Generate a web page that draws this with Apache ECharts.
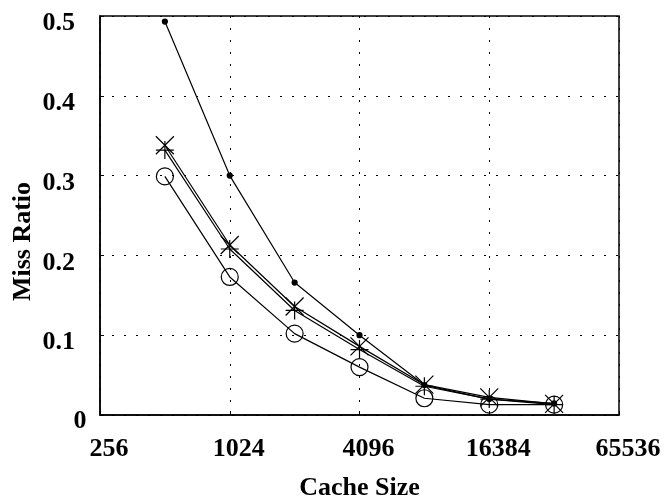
<!DOCTYPE html>
<html><head><meta charset="utf-8">
<script src="https://cdn.jsdelivr.net/npm/echarts@6/dist/echarts.min.js"></script>
<style>html,body{margin:0;padding:0;background:#fff}#c{width:671px;height:498px}</style>
</head><body><div id="c"></div>
<script>
var cacheSizes = [512, 1024, 2048, 4096, 8192, 16384, 32768];
var dotSeries = [0.493, 0.300, 0.166, 0.100, 0.0375, 0.020, 0.0145];
var crossSeries = [0.338, 0.213, 0.136, 0.086, 0.038, 0.022, 0.014];
var plusSeries = [0.332, 0.208, 0.131, 0.082, 0.036, 0.020, 0.013];
var circleSeries = [0.299, 0.173, 0.102, 0.060, 0.021, 0.013, 0.013];
var xTicks = [256, 1024, 4096, 16384, 65536];
var yTicks = [0, 0.1, 0.2, 0.3, 0.4, 0.5];

function pairs(v){ return cacheSizes.map(function(x,i){return [x, v[i]];}); }
var font = '"Liberation Serif","Times New Roman",serif';
function mk(name, data, symbol, size, filled){
  return {
    name: name, type: 'line', data: pairs(data), symbol: symbol, symbolSize: size,
    lineStyle: {color: '#000', width: 1.2},
    itemStyle: {color: filled ? '#000' : 'rgba(0,0,0,0)', borderColor: '#000', borderWidth: 1.2},
    showAllSymbol: true, animation: false, z: 3
  };
}
var chart = echarts.init(document.getElementById('c'));
chart.setOption({
  animation: false,
  grid: {left: 100, right: 52, top: 16, bottom: 83, show: true, borderColor: '#000', borderWidth: 1.5,
    containLabel: false, outerBoundsMode: 'none'},
  xAxis: {
    type: 'log', logBase: 4, min: xTicks[0], max: xTicks[xTicks.length-1],
    name: 'Cache Size', nameLocation: 'middle', nameGap: 60, nameMoveOverlap: false,
    nameTextStyle: {fontFamily: font, fontWeight: 'bold', fontSize: 26, color: '#000'},
    axisLine: {lineStyle: {color: '#000', width: 1.5}},
    axisTick: {inside: true, length: 4, lineStyle: {color: '#000'}},
    axisLabel: {fontFamily: font, fontWeight: 'bold', fontSize: 26, color: '#000', margin: 21,
      padding: [0, 0, 0, 18],
      formatter: function(v){ var r = Math.round(v); return xTicks.indexOf(r) >= 0 ? String(r) : ''; }},
    splitLine: {show: true, lineStyle: {color: '#000', type: [2, 10], width: 1}}
  },
  yAxis: {
    type: 'value', min: yTicks[0], max: yTicks[yTicks.length-1], interval: 0.1,
    name: 'Miss Ratio', nameLocation: 'middle', nameGap: 64, nameMoveOverlap: false,
    nameTextStyle: {fontFamily: font, fontWeight: 'bold', fontSize: 26, color: '#000', padding: [0, 52, 0, 0]},
    axisLine: {show: true, lineStyle: {color: '#000', width: 1.5}},
    axisTick: {show: true, inside: true, length: 4, lineStyle: {color: '#000'}},
    axisLabel: {fontFamily: font, fontWeight: 'bold', fontSize: 26, color: '#000', margin: 25,
      verticalAlign: 'top', lineHeight: 15,
      formatter: function(v){ return v === 0 ? '' : v.toFixed(1); }},
    splitLine: {show: true, lineStyle: {color: '#000', type: [2, 10], width: 1}}
  },
  series: [
    mk('dot', dotSeries, 'circle', 5, true),
    mk('cross', crossSeries, 'path://M0,0L10,10M10,0L0,10', 18, false),
    mk('plus', plusSeries, 'path://M5,0L5,10M0,5L10,5', 18, false),
    mk('circle', circleSeries, 'circle', 17, false)
  ]
});
var p0 = chart.convertToPixel({gridIndex: 0}, [xTicks[0], yTicks[0]]);
chart.setOption({
  graphic: [{
    type: 'text', x: p0[0] - 20, y: p0[1] + 6, silent: true,
    style: {text: '0', fontFamily: font, fontWeight: 'bold', fontSize: 26, fill: '#000',
      textAlign: 'center', textVerticalAlign: 'middle', align: 'center', verticalAlign: 'middle'}
  }]
});
</script></body></html>
